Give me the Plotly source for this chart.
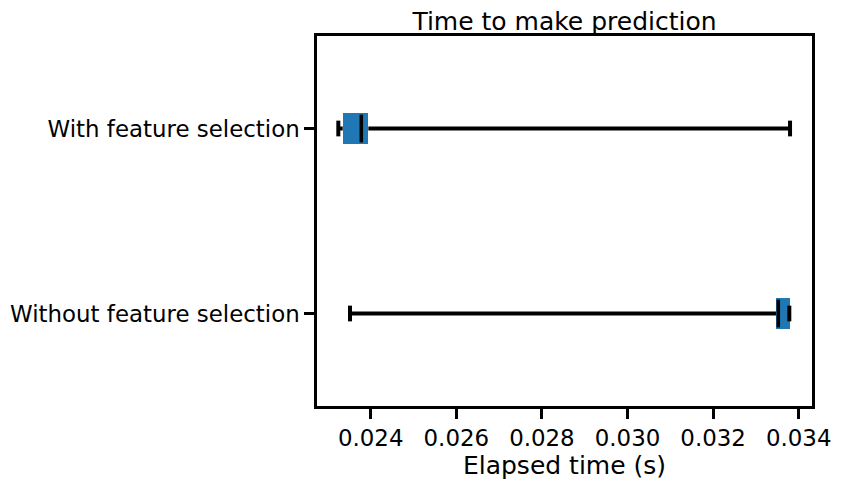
import plotly.graph_objects as go

labels = ["Without feature selection", "With feature selection"]
positions = [1, 2]
whislo = [0.023516, 0.023243]
q1 = [0.033470, 0.023346]
med = [0.033523, 0.023780]
q3 = [0.033797, 0.023944]
whishi = [0.033780, 0.033797]
xticks = [0.024, 0.026, 0.028, 0.030, 0.032, 0.034]
xticktext = ["0.024", "0.026", "0.028", "0.030", "0.032", "0.034"]

BOX_W = 0.17
MED_W = 0.15
CAP_W = 0.085

fig = go.Figure()

fig.add_trace(go.Bar(
    orientation="h", y=positions, x=[b - a for a, b in zip(q1, q3)], base=q1,
    width=BOX_W, marker=dict(color="#1f77b4", line=dict(width=0)),
    hoverinfo="skip", showlegend=False,
))

wx, wy = [], []
for p, lo, a, b, hi in zip(positions, whislo, q1, q3, whishi):
    wx += [lo, a, None, b, hi, None]
    wy += [p, p, None, p, p, None]
fig.add_trace(go.Scatter(x=wx, y=wy, mode="lines",
                         line=dict(color="black", width=4), showlegend=False))

cx, cy = [], []
for p, lo, hi in zip(positions, whislo, whishi):
    cx += [lo, lo, None, hi, hi, None]
    cy += [p - CAP_W / 2, p + CAP_W / 2, None, p - CAP_W / 2, p + CAP_W / 2, None]
fig.add_trace(go.Scatter(x=cx, y=cy, mode="lines",
                         line=dict(color="black", width=4), showlegend=False))

mx, my = [], []
for p, m in zip(positions, med):
    mx += [m, m, None]
    my += [p - MED_W / 2, p + MED_W / 2, None]
fig.add_trace(go.Scatter(x=mx, y=my, mode="lines",
                         line=dict(color="black", width=3.5), showlegend=False))

fig.update_layout(
    width=847, height=486,
    margin=dict(l=309, r=43, t=28, b=88),
    plot_bgcolor="white", paper_bgcolor="white",
    font=dict(family="DejaVu Sans", size=22.9, color="black"),
    title=dict(text="Time to make prediction", x=0.5, xref="paper",
               y=1 - 13 / 486, yref="container", yanchor="middle",
               xanchor="center", font=dict(size=25)),
    bargap=0,
)
fig.update_xaxes(
    range=[0.022745, 0.03431], tickvals=xticks, ticktext=xticktext,
    ticks="outside", ticklen=10, tickwidth=2.5, tickcolor="black",
    showline=True, linewidth=2.5, linecolor="black", mirror=True,
    showgrid=False, zeroline=False, automargin=False,
    title=dict(text="Elapsed time (s)", font=dict(size=25), standoff=4),
)
fig.update_yaxes(
    range=[0.5, 2.5], tickvals=positions, ticktext=labels,
    ticks="outside", ticklen=10, tickwidth=2.5, tickcolor="black",
    showline=True, linewidth=2.5, linecolor="black", mirror=True,
    showgrid=False, zeroline=False, automargin=False,
)

fig.write_html("out.html")
